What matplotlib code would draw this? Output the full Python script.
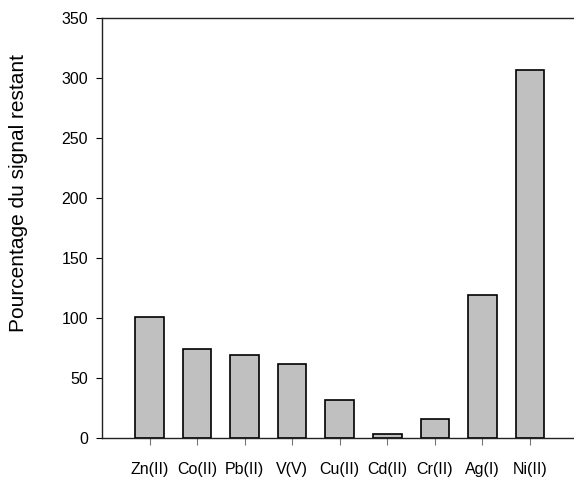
import matplotlib.pyplot as plt
import numpy as np

plt.rcParams['font.family'] = ['Liberation Sans', 'DejaVu Sans']

metals = ["Zn(II)", "Co(II)", "Pb(II)", "V(V)", "Cu(II)", "Cd(II)", "Cr(II)", "Ag(I)", "Ni(II)"]
signal = [101, 74, 69, 62, 32, 3, 16, 119, 307]

fig = plt.figure(figsize=(5.74, 4.78), dpi=100)
ax = fig.add_axes([0.1777, 0.0837, 0.82, 0.8787])

x = np.arange(len(metals))
ax.bar(x, signal, 0.6, color='#c0c0c0', edgecolor='black', linewidth=1.2)

ax.set_xlim(-1, 8.9)
ax.set_ylim(0, 350)
ax.set_yticks(np.arange(0, 351, 50))
ax.set_xticks(x, metals)
ax.spines['right'].set_visible(False)
for s in ('left', 'top', 'bottom'):
    ax.spines[s].set_linewidth(1.0)
    ax.spines[s].set_color('#222222')

ax.tick_params(axis='y', direction='out', length=4, width=0.8, labelsize=11.5, pad=6)
ax.tick_params(axis='x', direction='out', length=5, width=0.8, color='#777777', labelsize=11.5, pad=12)

ax.set_ylabel('Pourcentage du signal restant', fontsize=15)
ax.yaxis.set_label_coords(-0.158, 0.584)

fig.savefig('out.png', dpi=100)
